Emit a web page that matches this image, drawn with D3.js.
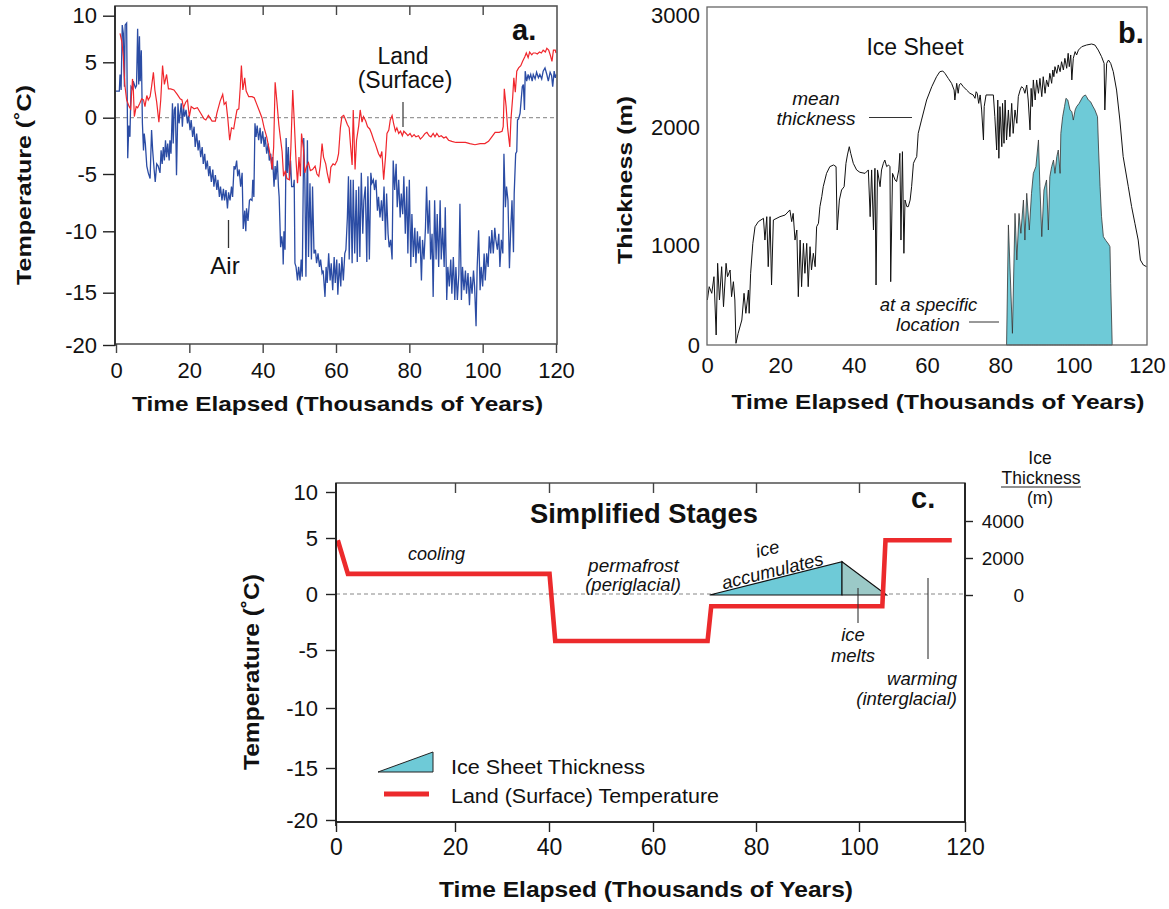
<!DOCTYPE html>
<html><head><meta charset="utf-8">
<script src="https://cdn.jsdelivr.net/npm/d3@7"></script>
<style>body{margin:0;background:#fff} svg{display:block} text{font-family:"Liberation Sans",Arial,Helvetica,sans-serif;fill:#111}</style>
</head><body><svg id="c" width="1169" height="909"></svg>
<script>
// ---------------- DATA ----------------
const timeTicks = [0,20,40,60,80,100,120];
const innerTimeTicks = [20,40,60,80,100];
const tempTicks = [10,5,0,-5,-10,-15,-20];
const thickTicks = [0,1000,2000,3000];
const iceTicks = [0,2000,4000];

// panel a: [time (kyr), temperature (C)]
const landPoints = [[1.1,8.1],[1.6,7.2],[2.0,5.6],[2.4,3.0],[2.9,1.6],[3.6,1.0],[4.0,0.8],[4.5,3.5],[4.7,2.8],[5.0,0.1],[5.5,1.0],[5.9,0.9],[6.5,1.3],[7.0,1.7],[7.5,1.6],[7.9,1.0],[8.4,2.0],[8.8,1.6],[9.3,1.9],[9.7,2.8],[10.2,4.1],[10.6,2.5],[11.1,1.4],[11.7,-0.4],[12.2,1.6],[12.7,4.7],[13.2,3.0],[13.8,3.9],[14.3,2.6],[14.9,2.6],[15.8,2.5],[16.7,2.1],[17.5,1.7],[18.0,1.6],[18.4,0.9],[19.0,1.4],[19.5,1.6],[20.0,0.1],[20.5,1.0],[21.3,0.8],[22.2,0.9],[23.1,0.4],[24.0,-0.1],[24.5,-0.2],[25.2,0.2],[25.6,0.0],[26.2,-0.3],[27.1,-0.3],[27.5,0.4],[28.4,1.5],[29.1,2.1],[29.5,1.2],[30.0,1.4],[30.5,-0.1],[31.0,-2.0],[31.5,-0.9],[32.1,-1.0],[32.5,-0.2],[33.0,0.7],[33.5,0.8],[33.9,2.8],[34.2,4.7],[34.6,2.5],[35.1,3.6],[35.5,2.4],[36.2,1.9],[37.1,1.9],[37.7,1.8],[38.4,1.2],[39.1,0.6],[39.8,0.0],[40.4,-0.9],[41.1,-1.7],[41.7,-2.7],[42.3,-3.8],[42.6,-4.6],[43.0,-2.6],[43.4,3.2],[43.9,1.4],[44.4,-0.6],[44.8,-1.7],[45.3,-3.0],[45.7,-5.2],[46.2,-4.7],[46.6,-5.4],[47.3,-5.5],[47.7,-2.6],[48.2,2.5],[48.6,-0.2],[49.1,-3.8],[49.5,-5.8],[49.9,-3.5],[50.3,-5.2],[50.6,-1.4],[51.1,-2.7],[51.5,-4.9],[52.0,-4.3],[52.5,-4.0],[53.0,-4.7],[53.6,-4.6],[54.3,-4.3],[54.8,-5.0],[55.3,-5.2],[55.7,-4.3],[56.2,-2.3],[56.6,-3.5],[57.2,-4.1],[57.6,-4.9],[58.2,-5.8],[58.6,-4.4],[59.2,-4.1],[59.7,-4.2],[60.3,-3.8],[60.7,-3.2],[61.2,-0.9],[61.6,0.1],[62.1,0.2],[62.5,-0.1],[63.1,-0.6],[63.6,-0.9],[64.0,-2.6],[64.4,-4.2],[64.7,0.7],[65.2,-4.6],[65.6,-2.0],[66.2,-0.7],[66.6,0.7],[67.1,-0.4],[67.5,0.1],[68.1,-0.3],[68.6,-0.8],[69.2,-1.0],[69.7,-1.4],[70.3,-2.0],[70.7,-2.3],[71.2,-2.8],[71.6,-3.2],[72.1,-3.5],[72.5,-3.0],[73.0,-5.5],[73.5,-3.5],[73.9,-1.4],[74.4,-1.1],[74.8,-0.2],[75.3,0.2],[75.7,-0.5],[76.2,-1.2],[76.6,-0.9],[77.1,-1.4],[77.6,-1.2],[78.1,-1.6],[78.5,-1.2],[79.1,-1.4],[79.6,-1.6],[80.2,-1.4],[80.7,-1.7],[81.3,-1.5],[81.8,-1.7],[82.5,-1.6],[83.0,-1.9],[83.6,-1.7],[84.3,-1.4],[84.8,-1.3],[85.4,-1.6],[85.9,-1.7],[86.5,-1.4],[87.0,-1.7],[87.5,-1.4],[88.1,-1.7],[88.7,-1.6],[89.4,-1.8],[90.0,-1.7],[90.7,-2.0],[91.6,-2.1],[92.7,-2.2],[94.0,-2.2],[95.3,-2.2],[96.5,-2.3],[97.9,-2.4],[99.3,-2.3],[100.6,-2.3],[101.6,-2.1],[102.5,-1.7],[103.4,-1.3],[104.5,-1.3],[105.3,-1.2],[105.6,-0.8],[105.9,2.6],[106.4,1.0],[106.8,-0.9],[107.4,-2.6],[107.7,-0.2],[108.2,1.9],[108.5,3.6],[108.9,2.3],[109.3,4.2],[109.8,4.5],[110.4,4.7],[110.9,5.1],[111.5,5.6],[111.9,6.0],[112.4,5.5],[112.8,6.1],[113.4,5.8],[113.8,6.0],[114.4,6.0],[114.9,5.9],[115.5,6.1],[116.0,6.0],[116.5,6.3],[117.1,6.1],[117.5,6.5],[118.0,6.3],[118.5,5.7],[118.9,5.1],[119.3,6.3],[119.8,6.3],[120.0,6.0]];

const airPoints = [[0,2.4],[0.9,2.4],[1.1,3.9],[1.4,2.5],[1.7,9.0],[2.0,8.1],[2.3,2.8],[2.5,9.0],[2.9,9.2],[3.2,-3.6],[3.5,-0.7],[3.8,-1.7],[4.1,2.8],[4.5,2.6],[4.7,3.3],[5.0,3.0],[5.3,2.7],[5.6,2.9],[5.9,8.6],[6.2,3.0],[6.4,7.8],[6.6,3.3],[6.9,6.3],[7.2,-0.5],[7.5,-2.9],[7.7,-1.4],[8.0,-2.3],[8.4,-4.3],[8.8,-4.9],[9.3,-5.4],[9.7,-1.1],[10.0,-2.9],[10.4,-4.6],[10.7,-5.7],[11.1,-4.1],[11.5,-4.3],[12.0,-4.9],[12.3,-2.9],[12.6,-4.1],[12.9,-2.6],[13.2,-3.8],[13.5,-2.0],[13.8,-3.5],[14.1,-2.3],[14.5,-3.8],[14.7,-2.0],[15.0,-3.2],[15.4,1.3],[15.6,-2.3],[15.9,0.7],[16.2,1.0],[16.5,-5.1],[16.9,1.3],[17.2,-0.5],[17.5,0.4],[17.8,1.3],[18.1,-0.8],[18.4,1.0],[18.7,0.1],[19.1,0.7],[19.5,-0.5],[19.8,0.2],[20.2,-1.1],[20.5,-0.2],[20.9,-1.7],[21.3,-0.8],[21.6,-2.6],[22.0,-1.4],[22.4,-2.9],[22.7,-2.0],[23.1,-3.5],[23.5,-2.6],[23.8,-4.1],[24.2,-3.2],[24.5,-4.6],[24.9,-3.8],[25.3,-5.2],[25.6,-4.3],[26.0,-5.7],[26.4,-4.6],[26.7,-6.1],[27.1,-5.1],[27.5,-6.4],[27.8,-5.5],[28.2,-7.0],[28.5,-6.1],[28.9,-7.3],[29.3,-6.3],[29.6,-7.3],[30.0,-6.4],[30.4,-8.0],[30.7,-6.6],[31.1,-7.3],[31.5,-6.1],[31.8,-7.0],[32.2,-4.3],[32.5,-4.6],[32.9,-3.8],[33.2,-5.2],[33.6,-4.6],[34.0,-6.1],[34.4,-4.9],[34.7,-9.8],[35.1,-8.2],[35.4,-10.0],[35.6,-8.0],[36.0,-9.1],[36.4,-7.3],[36.7,-7.2],[37.1,-7.3],[37.3,-5.5],[37.6,-7.0],[37.9,-0.5],[38.2,-1.7],[38.5,-0.7],[38.9,-2.0],[39.3,-0.9],[39.6,-2.3],[40.0,-1.2],[40.4,-2.6],[40.7,-1.7],[41.1,-3.2],[41.5,-2.3],[41.8,-3.8],[42.2,-3.2],[42.5,-4.6],[42.7,-3.5],[43.1,-6.1],[43.4,-4.3],[43.6,-5.5],[44.0,-3.8],[44.3,-6.1],[44.5,-7.0],[44.9,-11.3],[45.2,-10.4],[45.5,-11.3],[45.6,-12.7],[45.8,-10.0],[46.1,-11.5],[46.4,-1.8],[46.7,-4.9],[47.0,-2.6],[47.3,-5.5],[47.6,-3.8],[47.9,-6.1],[48.4,-6.1],[48.6,-5.5],[48.8,-12.6],[49.1,-12.9],[49.5,-14.0],[49.8,-12.9],[50.2,-14.0],[50.5,-12.3],[50.8,-13.7],[51.2,-1.8],[51.5,-5.5],[51.8,-13.7],[52.2,-2.0],[52.5,-12.1],[52.9,-5.8],[53.3,-12.3],[53.6,-6.1],[54.0,-11.8],[54.4,-11.5],[54.7,-12.6],[55.1,-11.8],[55.5,-12.9],[55.8,-12.3],[56.2,-13.4],[56.5,-13.2],[57.0,-15.4],[57.3,-12.9],[57.6,-14.2],[58.0,-11.8],[58.4,-14.0],[58.7,-12.6],[59.1,-14.8],[59.5,-12.1],[59.8,-14.2],[60.2,-12.3],[60.5,-15.2],[60.9,-12.6],[61.3,-14.5],[61.6,-12.1],[62.0,-14.0],[62.4,-11.8],[62.7,-11.5],[63.1,-8.8],[63.4,-5.2],[63.6,-12.3],[64.0,-5.5],[64.4,-12.6],[64.7,-5.5],[65.1,-11.8],[65.5,-6.4],[65.8,-12.5],[66.2,-6.1],[66.5,-12.1],[66.9,-4.9],[67.3,-10.2],[67.6,-7.3],[68.0,-6.1],[68.4,-12.5],[68.7,-5.2],[69.1,-12.3],[69.5,-4.9],[69.8,-5.8],[70.2,-5.5],[70.5,-6.4],[70.9,-5.5],[71.3,-8.2],[71.6,-7.0],[72.0,-8.8],[72.4,-7.3],[72.7,-9.1],[73.1,-6.1],[73.5,-10.7],[73.8,-6.7],[74.2,-10.2],[74.5,-11.3],[74.9,-10.7],[75.3,-12.3],[75.6,-3.8],[76.0,-6.4],[76.4,-4.1],[76.7,-7.9],[77.1,-5.5],[77.5,-8.8],[77.8,-6.7],[78.2,-8.5],[78.5,-5.2],[78.9,-10.2],[79.3,-6.1],[79.6,-11.8],[80.0,-5.5],[80.4,-12.9],[80.7,-8.5],[81.1,-12.1],[81.5,-9.7],[81.8,-12.6],[82.2,-10.0],[82.5,-11.8],[82.9,-10.4],[83.3,-14.0],[83.6,-10.7],[84.0,-12.3],[84.4,-9.7],[84.7,-6.1],[85.1,-10.2],[85.5,-7.3],[85.8,-12.3],[86.2,-10.2],[86.5,-15.4],[86.9,-7.3],[87.3,-12.3],[87.6,-8.5],[88.0,-12.9],[88.4,-7.3],[88.7,-12.3],[89.1,-9.7],[89.5,-12.9],[89.8,-7.9],[90.2,-15.7],[90.5,-12.9],[90.9,-14.5],[91.3,-12.3],[91.6,-15.1],[92.0,-12.1],[92.4,-15.7],[92.7,-12.9],[93.1,-15.7],[93.5,-13.5],[93.8,-7.6],[94.2,-15.7],[94.5,-12.9],[94.9,-14.8],[95.3,-13.2],[95.6,-15.1],[96.0,-13.4],[96.4,-16.2],[96.7,-13.7],[97.1,-15.1],[97.5,-13.2],[97.8,-14.5],[98.2,-18.2],[98.5,-12.9],[98.9,-9.9],[99.3,-14.8],[99.6,-12.9],[100.0,-14.5],[100.4,-11.8],[100.7,-14.0],[101.1,-11.8],[101.5,-12.9],[101.8,-10.4],[102.2,-11.8],[102.5,-9.9],[102.9,-11.8],[103.3,-9.7],[103.6,-10.7],[104.0,-11.5],[104.4,-10.2],[104.7,-12.9],[105.1,-10.7],[105.5,-11.8],[105.8,-3.2],[106.2,-7.9],[106.5,-6.1],[106.9,-7.3],[107.3,-13.0],[107.6,-10.2],[108.0,-7.3],[108.4,-11.7],[108.6,-6.7],[109.0,-3.2],[109.3,-3.0],[109.5,-0.2],[109.8,-0.1],[110.2,0.4],[110.5,1.6],[110.8,2.8],[111.1,3.0],[111.4,0.7],[111.6,4.2],[112.0,3.3],[112.4,3.9],[112.7,3.5],[113.1,3.9],[113.5,3.3],[113.8,3.9],[114.3,3.5],[114.7,4.1],[115.2,3.6],[115.6,3.9],[116.1,3.5],[116.5,4.2],[117.0,4.5],[117.5,3.9],[117.9,3.3],[118.4,4.1],[118.8,3.8],[119.1,2.8],[119.5,4.2],[119.8,3.6],[120.0,3.9]];

// panel b: [time (kyr), thickness (m)]
const meanThickness = [[0.1,450],[0.6,583],[1.3,517],[1.9,683],[2.5,100],[2.9,817],[3.4,450],[4.0,783],[4.5,383],[5.2,817],[5.6,683],[6.3,750],[6.7,483],[7.2,633],[7.6,450],[7.9,17],[8.5,117],[9.5,250],[10.1,517],[10.6,317],[11.3,550],[11.5,317],[11.9,717],[12.5,1014],[13.1,1155],[14.0,1198],[15.4,1226],[15.8,1042],[16.3,1240],[16.7,783],[17.2,1240],[17.6,600],[18.1,1212],[19.9,1240],[21.3,1254],[22.6,1297],[23.1,1198],[23.5,1268],[24.0,1042],[24.5,1127],[24.9,483],[25.4,1042],[25.8,583],[26.3,1014],[26.7,717],[27.2,1014],[27.6,583],[28.1,983],[28.5,750],[29.0,917],[29.5,783],[29.9,1155],[30.4,1184],[30.8,1325],[31.3,1410],[31.7,1494],[32.6,1607],[33.5,1664],[34.5,1678],[35.2,1664],[35.5,1127],[36.1,1381],[36.7,1466],[37.4,1494],[37.9,1692],[38.3,1763],[38.8,1833],[39.2,1777],[39.9,1692],[40.8,1636],[41.7,1616],[43.1,1607],[44.0,1636],[44.5,1240],[44.9,1636],[45.4,1127],[45.8,1650],[46.1,600],[46.5,1636],[47.2,1494],[47.6,1636],[48.1,1692],[48.5,1720],[49.0,1664],[49.5,1678],[49.9,1664],[50.1,633],[50.6,1607],[51.3,1551],[51.7,1537],[52.3,1636],[52.6,1777],[52.9,1042],[53.3,1791],[53.7,917],[54.0,1381],[54.5,1325],[54.9,1325],[55.4,1381],[55.8,1494],[56.3,1692],[56.7,1720],[57.2,1749],[57.6,1946],[58.5,2062],[59.9,2241],[61.3,2360],[62.6,2449],[63.5,2494],[64.3,2500],[64.9,2479],[65.8,2434],[66.7,2390],[67.4,2330],[67.6,2241],[68.1,2390],[68.5,2301],[68.8,2375],[69.2,2390],[69.9,2360],[70.8,2330],[71.7,2301],[72.6,2286],[73.1,2256],[73.4,2315],[73.7,2301],[74.1,2211],[74.5,2286],[74.9,2152],[75.4,1890],[75.6,2182],[76.1,2286],[78.1,2286],[78.5,2092],[79.0,1805],[79.3,2241],[79.6,1735],[79.9,2182],[80.4,1833],[80.6,2211],[81.0,1862],[81.3,2241],[81.7,1890],[82.2,2152],[82.6,1918],[83.1,2211],[83.5,1946],[84.0,2152],[84.5,2033],[84.9,2271],[85.4,2330],[85.8,2360],[86.3,2345],[86.7,2301],[87.2,2375],[87.6,2241],[88.1,1975],[88.4,2345],[88.7,2182],[89.0,2420],[89.5,2241],[89.9,2420],[90.4,2301],[90.8,2434],[91.3,2271],[91.7,2449],[92.2,2301],[92.6,2420],[93.1,2360],[93.5,2479],[94.0,2390],[94.3,2509],[94.6,2449],[94.9,2539],[95.4,2479],[95.8,2554],[96.3,2494],[96.7,2583],[97.2,2509],[97.6,2613],[98.1,2524],[98.5,2658],[98.8,2539],[99.2,2643],[99.5,2420],[99.9,2613],[100.4,2673],[100.8,2643],[101.3,2687],[102.2,2717],[103.5,2732],[104.9,2741],[105.8,2732],[106.7,2687],[107.6,2628],[108.3,2568],[108.5,2152],[109.0,2568],[109.5,2598],[110.1,2568],[110.8,2494],[111.7,2330],[112.6,2062],[113.5,1749],[114.9,1494],[115.8,1325],[116.7,1184],[117.6,1042],[118.2,850],[119.0,800],[119.9,783]];

const siteThickness = [[81.7,0],[82.2,1170],[83.3,117],[84.0,1268],[84.5,850],[85.1,1268],[85.6,1099],[86.3,1381],[86.7,1042],[87.2,1438],[87.9,1127],[88.5,1438],[89.0,1607],[89.7,1664],[90.4,1890],[90.8,1494],[91.3,1071],[91.9,1466],[92.6,1551],[93.1,1127],[93.5,1579],[94.0,1664],[94.5,1720],[94.9,1607],[95.4,1749],[95.8,1805],[96.3,1607],[96.5,1946],[97.0,2092],[97.5,2182],[97.9,2256],[98.4,2241],[99.0,2152],[99.5,2137],[99.9,2062],[100.4,2152],[100.8,2182],[101.5,2211],[102.0,2241],[102.5,2271],[103.2,2286],[103.5,2271],[104.0,2241],[104.6,2226],[105.2,2187],[105.8,2152],[106.5,2092],[106.8,1805],[107.2,1494],[107.6,1240],[108.1,1071],[108.8,1037],[109.5,1008],[109.9,983],[110.1,617],[110.5,17],[110.5,0]];

// panel c: simplified stages
const stageTemp = [[0.3,4.8],[2.0,1.8],[40.1,1.8],[41.2,-4.2],[70.6,-4.2],[71.3,-1.1],[104.4,-1.1],[105.0,4.8],[117.5,4.8]];
const stageIce = [[71.0,0],[96.7,1800],[105.2,0]];

// ---------------- LAYOUT ----------------
const FONT = '"Liberation Sans",Arial,Helvetica,sans-serif';
const svg = d3.select("#c");
svg.append("rect").attr("width",1169).attr("height",909).attr("fill","#fff");

function styleAxis(g, size, col) {
  g.select(".domain").remove();
  g.selectAll(".tick line").attr("stroke", col || "#222").attr("stroke-width", 1.4);
  g.selectAll(".tick text").attr("fill","#111").style("font-size", size + "px").style("font-family", FONT);
}
function txt(g, x, y, s, o) {
  o = o || {};
  const t = g.append("text").attr("x", x).attr("y", y).text(s)
    .attr("text-anchor", o.anchor || "start")
    .style("font-size", (o.size || 20) + "px")
    .style("font-weight", o.bold ? "bold" : "normal")
    .style("font-style", o.italic ? "italic" : "normal");
  if (o.len) t.attr("textLength", o.len).attr("lengthAdjust", "spacingAndGlyphs");
  if (o.rot !== undefined) t.attr("transform", `rotate(${o.rot},${x},${y})`);
  return t;
}
function seg(g, x1, y1, x2, y2, col, w) {
  g.append("line").attr("x1",x1).attr("y1",y1).attr("x2",x2).attr("y2",y2)
    .attr("stroke", col || "#333").attr("stroke-width", w || 1.2);
}
const fmt = d => String(d);

// ================= PANEL A =================
const A = {l:115, r:557, t:6, b:344};
const xA = d3.scaleLinear().domain([0,120]).range([116,556]);
const yA = d3.scaleLinear().domain([-20,-15,-10,-5,0,5,10]).range([345,292.7,231.3,174,117.7,62.3,15.7]);
const gA = svg.append("g");
gA.append("line").attr("x1",xA(0)).attr("x2",xA(120)).attr("y1",yA(0)).attr("y2",yA(0))
  .attr("stroke","#999").attr("stroke-width",1.2).attr("stroke-dasharray","4,3");
const lineA = d3.line().x(d => xA(d[0])).y(d => yA(d[1]));
gA.append("path").datum(airPoints).attr("d", lineA).attr("fill","none").attr("stroke","#2b4ca4").attr("stroke-width",1.3);
gA.append("path").datum(landPoints).attr("d", lineA).attr("fill","none").attr("stroke","#f0262c").attr("stroke-width",1.2);
gA.append("rect").attr("x",A.l).attr("y",A.t).attr("width",A.r-A.l).attr("height",A.b-A.t)
  .attr("fill","none").attr("stroke","#555").attr("stroke-width",1.6);
seg(gA, A.l, A.t, A.l, A.b+2, "#222", 1.6);
const axAL = gA.append("g").attr("transform",`translate(${A.l},0)`)
  .call(d3.axisLeft(yA).tickValues(tempTicks).tickSize(12).tickPadding(6).tickFormat(fmt));
styleAxis(axAL, 22);
const axAB = gA.append("g").attr("transform",`translate(0,${A.b})`)
  .call(d3.axisBottom(xA).tickValues(timeTicks).tickSize(9).tickFormat(fmt));
styleAxis(axAB, 22, "#444");
axAB.selectAll(".tick text").attr("y", 34).attr("dy", null);
const axAT = gA.append("g").attr("transform",`translate(0,${A.t})`)
  .call(d3.axisTop(xA).tickValues(innerTimeTicks).tickSize(-9).tickFormat(() => ""));
styleAxis(axAT, 10, "#444");
txt(gA, 337.5, 411, "Time Elapsed (Thousands of Years)", {anchor:"middle", size:21, bold:true, len:411});
txt(gA, 31, 185, "Temperature (˚C)", {anchor:"middle", size:21, bold:true, len:200, rot:-90});
txt(gA, 512, 40, "a.", {size:29, bold:true});
txt(gA, 403, 64, "Land", {anchor:"middle", size:23});
txt(gA, 405, 88, "(Surface)", {anchor:"middle", size:23});
seg(gA, 403, 102, 403, 127, "#444", 1.3);
txt(gA, 225, 274, "Air", {anchor:"middle", size:24});
seg(gA, 228.5, 220, 228.5, 248, "#333", 1.3);

// ================= PANEL B =================
const B = {l:707, r:1147, t:7, b:345};
const xB = d3.scaleLinear().domain([0,120]).range([707,1147]);
const yB = d3.scaleLinear().domain([0,1000,2000,3000]).range([345,245,127,15]);
const gB = svg.append("g");
gB.append("path").datum(siteThickness)
  .attr("d", d3.area().x(d => xB(d[0])).y0(yB(0)).y1(d => yB(d[1])))
  .attr("fill","#6ecad7").attr("stroke","#333").attr("stroke-width",0.8);
gB.append("path").datum(meanThickness)
  .attr("d", d3.line().x(d => xB(d[0])).y(d => yB(d[1])))
  .attr("fill","none").attr("stroke","#111").attr("stroke-width",1);
gB.append("rect").attr("x",B.l).attr("y",B.t).attr("width",B.r-B.l).attr("height",B.b-B.t)
  .attr("fill","none").attr("stroke","#666").attr("stroke-width",1.3);
const axBL = gB.append("g").attr("transform",`translate(${B.l},0)`)
  .call(d3.axisLeft(yB).tickValues(thickTicks).tickSize(0).tickPadding(7).tickFormat(fmt));
styleAxis(axBL, 22);
const axBB = gB.append("g").attr("transform",`translate(0,${B.b})`)
  .call(d3.axisBottom(xB).tickValues(timeTicks).tickSize(0).tickFormat(fmt));
styleAxis(axBB, 22);
axBB.selectAll(".tick text").attr("y", 28).attr("dy", null);
txt(gB, 938, 409, "Time Elapsed (Thousands of Years)", {anchor:"middle", size:21, bold:true, len:413});
txt(gB, 632, 180, "Thickness (m)", {anchor:"middle", size:21, bold:true, len:168, rot:-90});
txt(gB, 1118, 43, "b.", {size:29, bold:true});
txt(gB, 915, 55, "Ice Sheet", {anchor:"middle", size:23});
txt(gB, 816, 105, "mean", {anchor:"middle", size:19, italic:true});
txt(gB, 816, 125, "thickness", {anchor:"middle", size:19, italic:true});
seg(gB, 869, 117.5, 912, 117.5, "#333", 1);
txt(gB, 928.5, 311, "at a specific", {anchor:"middle", size:18.5, italic:true});
txt(gB, 928, 331, "location", {anchor:"middle", size:18.5, italic:true});
seg(gB, 969, 322, 999, 322, "#333", 1);

// ================= PANEL C =================
const C = {l:336, r:965, t:483, b:822};
const xC = d3.scaleLinear().domain(timeTicks).range([336,455,549,653,756,859,965]);
const yC = d3.scaleLinear().domain([-20,-15,-10,-5,0,5,10]).range([820,768,708,650,594,538,492]);
const iceC = d3.scaleLinear().domain([0,4000]).range([595,521]);
const gC = svg.append("g");
gC.append("line").attr("x1",xC(0)).attr("x2",xC(120)).attr("y1",yC(0)).attr("y2",yC(0))
  .attr("stroke","#888").attr("stroke-width",1.1).attr("stroke-dasharray","4,3");
const iceArea = d3.area().x(d => xC(d[0])).y0(iceC(0)).y1(d => iceC(d[1]));
gC.append("path").datum(stageIce.slice(0,2)).attr("d", iceArea)
  .attr("fill","#6ecad7").attr("stroke","#111").attr("stroke-width",1.1);
gC.append("path").datum(stageIce.slice(1,3)).attr("d", iceArea)
  .attr("fill","#9bc9c7").attr("stroke","#111").attr("stroke-width",1.1);
gC.append("path").datum(stageTemp)
  .attr("d", d3.line().x(d => xC(d[0])).y(d => yC(d[1])))
  .attr("fill","none").attr("stroke","#ec2a2c").attr("stroke-width",4.6).attr("stroke-linejoin","miter");
gC.append("rect").attr("x",C.l).attr("y",C.t).attr("width",C.r-C.l).attr("height",C.b-C.t)
  .attr("fill","none").attr("stroke","#444").attr("stroke-width",1.4);
seg(gC, C.l, C.t, C.l, C.b+4, "#111", 1.6);
seg(gC, C.l, C.b, C.r, C.b, "#111", 1.6);
seg(gC, C.r, C.t, C.r, C.b, "#111", 1.6);
const axCL = gC.append("g").attr("transform",`translate(${C.l},0)`)
  .call(d3.axisLeft(yC).tickValues(tempTicks).tickSize(10).tickPadding(8).tickFormat(fmt));
styleAxis(axCL, 22);
const axCB = gC.append("g").attr("transform",`translate(0,${C.b})`)
  .call(d3.axisBottom(xC).tickValues(timeTicks).tickSize(10).tickFormat(fmt));
styleAxis(axCB, 23);
axCB.selectAll(".tick text").attr("y", 33).attr("dy", null);
const axCT = gC.append("g").attr("transform",`translate(0,${C.t})`)
  .call(d3.axisTop(xC).tickValues(innerTimeTicks).tickSize(-10).tickFormat(() => ""));
styleAxis(axCT, 10, "#444");
const axCR = gC.append("g").attr("transform",`translate(${C.r},0)`)
  .call(d3.axisRight(iceC).tickValues(iceTicks).tickSize(8).tickFormat(fmt));
styleAxis(axCR, 19);
axCR.selectAll(".tick text").attr("text-anchor","end").attr("x", 59);
txt(gC, 1040, 464, "Ice", {anchor:"middle", size:17.5});
txt(gC, 1041, 484, "Thickness", {anchor:"middle", size:17.5});
seg(gC, 1001, 487, 1081, 487, "#222", 1.2);
txt(gC, 1040, 504, "(m)", {anchor:"middle", size:17.5});

txt(gC, 646, 897, "Time Elapsed (Thousands of Years)", {anchor:"middle", size:22, bold:true, len:414});
txt(gC, 259, 672, "Temperature (˚C)", {anchor:"middle", size:22, bold:true, len:196, rot:-90});
txt(gC, 644, 523, "Simplified Stages", {anchor:"middle", size:27, bold:true, len:228});
txt(gC, 911, 508, "c.", {size:29, bold:true});
txt(gC, 436.5, 560, "cooling", {anchor:"middle", size:18, italic:true});
txt(gC, 633.5, 572, "permafrost", {anchor:"middle", size:19, italic:true});
txt(gC, 633, 591, "(periglacial)", {anchor:"middle", size:18.5, italic:true});
txt(gC, 769, 555, "ice", {anchor:"middle", size:18.5, italic:true, rot:-14});
txt(gC, 774, 577, "accumulates", {anchor:"middle", size:18.5, italic:true, rot:-14});
txt(gC, 853, 641, "ice", {anchor:"middle", size:18.5, italic:true});
txt(gC, 853, 662, "melts", {anchor:"middle", size:18.5, italic:true});
seg(gC, 858, 588, 858, 623, "#333", 1.1);
txt(gC, 957, 685, "warming", {anchor:"end", size:18.5, italic:true});
txt(gC, 957, 705, "(interglacial)", {anchor:"end", size:18.5, italic:true});
seg(gC, 928, 578, 928, 659, "#333", 1.1);

// legend
const lg = gC.append("g");
lg.append("path").attr("d","M378,772L433,752L433,772Z").attr("fill","#6ecad7").attr("stroke","#222").attr("stroke-width",1);
seg(lg, 384, 794, 429, 794, "#ec2a2c", 5);
txt(lg, 451, 774, "Ice Sheet Thickness", {size:20, len:194});
txt(lg, 451, 803, "Land (Surface) Temperature", {size:20, len:268});
</script></body></html>
